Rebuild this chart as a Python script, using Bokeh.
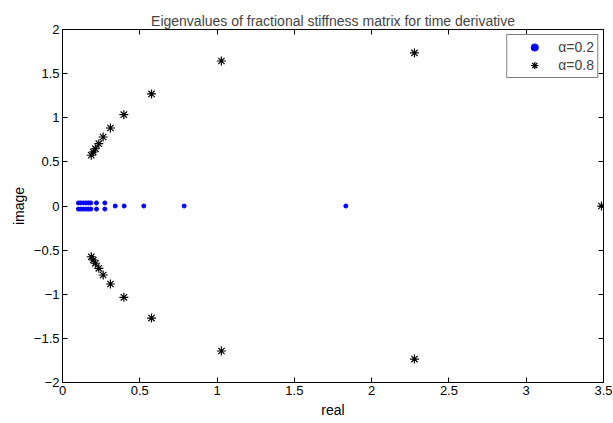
from bokeh.plotting import figure
from bokeh.models import FixedTicker, Legend, LegendItem, LinearAxis, Range1d
from bokeh.embed import file_html
from bokeh.resources import INLINE

title_text = "Eigenvalues of fractional stiffness matrix for time derivative"

# alpha = 0.2 eigenvalues (real, imag)
a02_re = [0.103, 0.103, 0.118, 0.118, 0.136, 0.136, 0.153, 0.153, 0.168, 0.168,
          0.183, 0.183, 0.220, 0.220, 0.274, 0.274, 0.341, 0.399, 0.526, 0.787, 1.833]
a02_im = [0.035, -0.035, 0.035, -0.035, 0.035, -0.035, 0.035, -0.035, 0.035, -0.035,
          0.035, -0.035, 0.035, -0.035, 0.035, -0.035, 0.0, 0.0, 0.0, 0.0, 0.0]

# alpha = 0.8 eigenvalues (real, imag)
a08_re = [0.186, 0.186, 0.199, 0.199, 0.213, 0.213, 0.235, 0.235, 0.263, 0.263,
          0.310, 0.310, 0.397, 0.397, 0.576, 0.576, 1.028, 1.028, 2.277, 2.277, 3.487]
a08_im = [0.575, -0.575, 0.612, -0.612, 0.649, -0.649, 0.706, -0.706, 0.782, -0.782,
          0.884, -0.884, 1.035, -1.035, 1.270, -1.270, 1.643, -1.643, 1.734, -1.734, 0.0]

x_ticks = [0, 0.5, 1, 1.5, 2, 2.5, 3, 3.5]
x_tick_labels = ["0", "0.5", "1", "1.5", "2", "2.5", "3", "3.5"]
y_ticks = [-2, -1.5, -1, -0.5, 0, 0.5, 1, 1.5, 2]
y_tick_labels = ["\u22122", "\u22121.5", "\u22121", "\u22120.5", "0", "0.5", "1", "1.5", "2"]

FONT = "Liberation Sans"

p = figure(width=613, height=423, output_backend="svg", toolbar_location=None,
           x_range=Range1d(0, 3.5), y_range=Range1d(-2, 2),
           min_border_left=62, min_border_right=10, min_border_top=29, min_border_bottom=41,
           x_axis_label="real", y_axis_label="image")

p.title.text = title_text
p.title.align = "center"
p.title.text_font = FONT
p.title.text_font_size = "14px"
p.title.text_font_style = "normal"
p.title.standoff = 2
p.title.offset = 0

p.xgrid.visible = False
p.ygrid.visible = False
p.outline_line_color = "black"
p.outline_line_width = 1
p.background_fill_color = "white"
p.border_fill_color = "white"

bottom_ax = p.below[0]
left_ax = p.left[0]
top_ax = LinearAxis()
right_ax = LinearAxis()
p.add_layout(top_ax, "above")
p.add_layout(right_ax, "right")

for ax, ticks, labels in ((bottom_ax, x_ticks, x_tick_labels), (left_ax, y_ticks, y_tick_labels),
                          (top_ax, x_ticks, x_tick_labels), (right_ax, y_ticks, y_tick_labels)):
    ax.ticker = FixedTicker(ticks=ticks)
    ax.major_label_overrides = {t: l for t, l in zip(ticks, labels)}
    ax.major_tick_in = 5
    ax.major_tick_out = 0
    ax.minor_tick_in = 0
    ax.minor_tick_out = 0
    ax.axis_line_color = "black"
    ax.major_tick_line_color = "black"
    ax.major_label_text_font = FONT
    ax.major_label_text_font_size = "13px"
    ax.major_label_text_color = "black"
    ax.axis_label_text_font = FONT
    ax.axis_label_text_font_size = "14px"
    ax.axis_label_text_font_style = "normal"
    ax.axis_label_text_color = "black"
    ax.major_label_standoff = 3
    ax.axis_label_standoff = 4

for ax in (top_ax, right_ax):
    ax.major_label_text_font_size = "0px"
    ax.major_label_text_alpha = 0
    ax.major_label_standoff = 0

r1 = p.scatter(a02_re, a02_im, marker="circle", size=4, fill_color="blue", line_color="blue")
r2 = p.scatter(a08_re, a08_im, marker="asterisk", size=9, line_color="black", line_width=1.2)

legend = Legend(items=[LegendItem(label="\u03b1=0.2", renderers=[r1]),
                       LegendItem(label="\u03b1=0.8", renderers=[r2])],
                location="top_right")
legend.label_text_font = FONT
legend.label_text_font_size = "14px"
legend.border_line_color = "black"
legend.border_line_width = 1
legend.margin = 5
legend.padding = 3
legend.spacing = 0
legend.glyph_width = 48
legend.glyph_height = 18
legend.label_height = 18
legend.label_standoff = 0
legend.background_fill_alpha = 1
p.add_layout(legend, "center")

open("out.html", "w").write(file_html(p, INLINE))
